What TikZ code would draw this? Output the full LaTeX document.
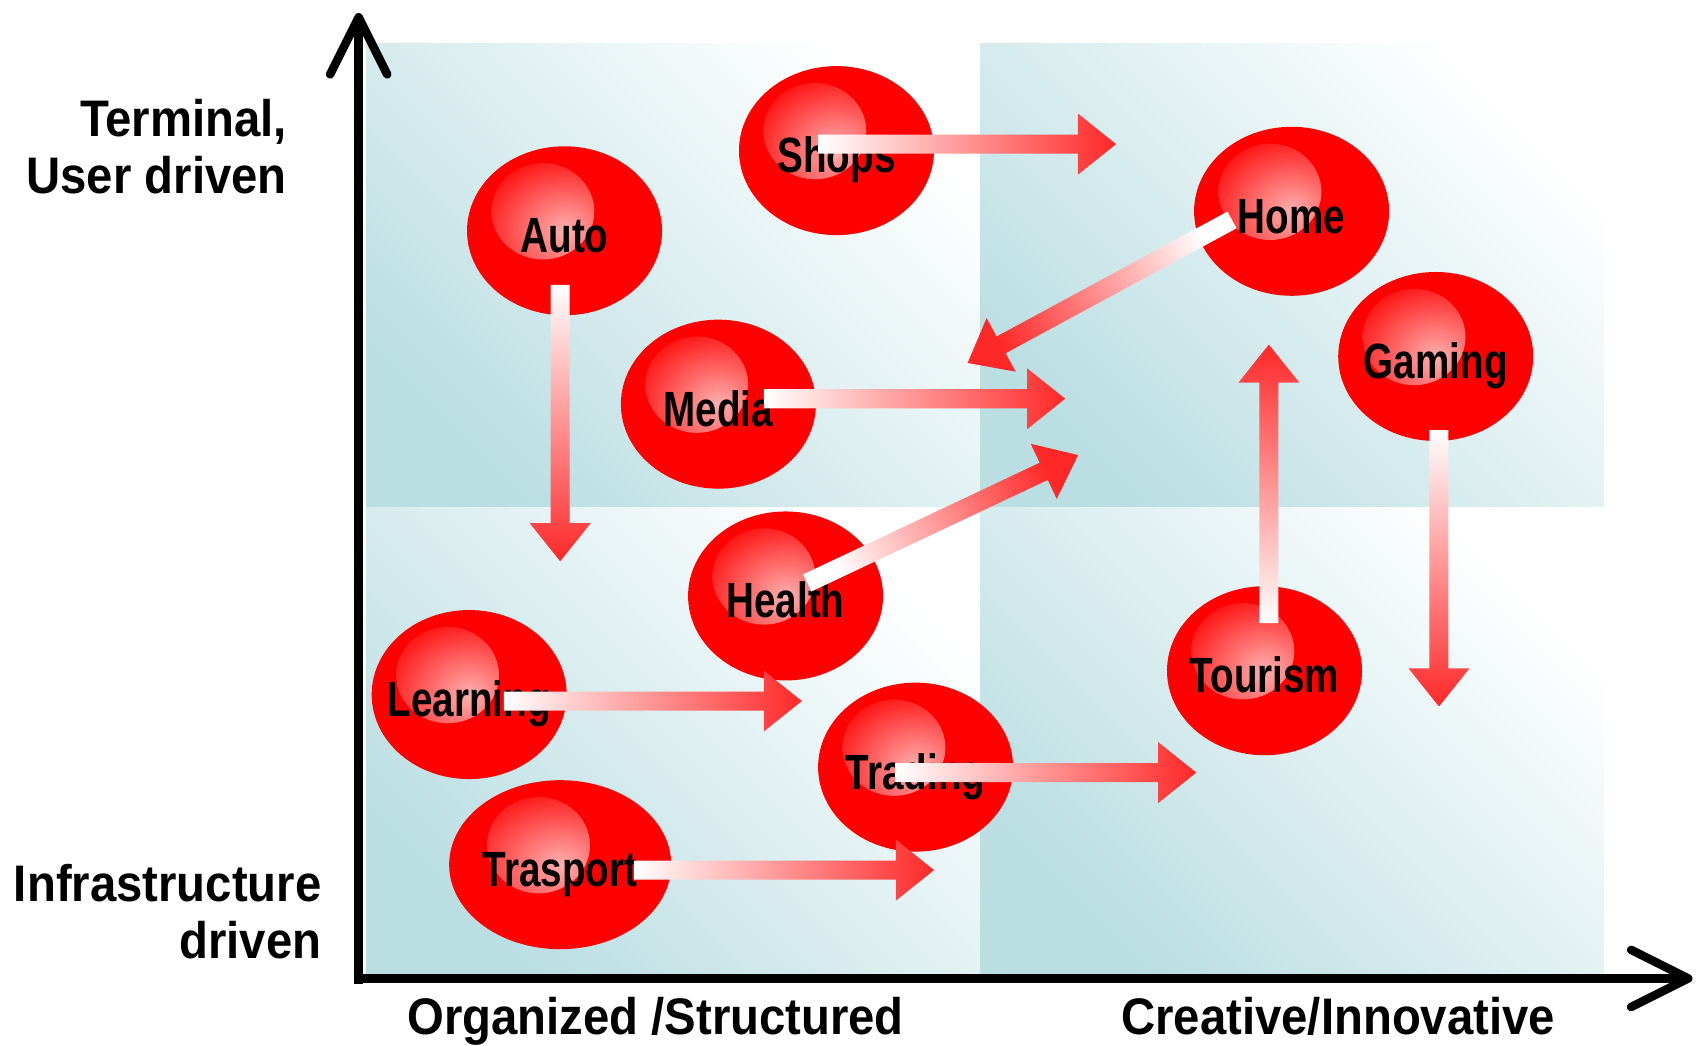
\documentclass[tikz,border=0pt]{standalone}
\usepackage{fontspec}
\setmainfont{Liberation Sans}
\newfontfamily\boulefont[FakeStretch=0.78]{Liberation Sans}
\newfontfamily\axefont[FakeStretch=0.92]{Liberation Sans}
\usepackage{tikz}
\usetikzlibrary{shapes.geometric, arrows.meta, calc}

\definecolor{sarcelle}{RGB}{186,222,226}
\definecolor{rougeboule}{RGB}{255,0,0}
\definecolor{reflet}{RGB}{255,176,176}
\definecolor{rougefleche}{RGB}{255,40,40}

\tikzstyle{boule} = [ellipse, 
minimum width=3.6cm, 
minimum height=3.12cm,
inner sep=0pt,
fill=rougeboule,
font=\boulefont\bfseries\fontsize{26}{30}\selectfont,
text height=23pt, text depth=0pt,
path picture={\shade[inner color=reflet, outer color=rougeboule] ([xshift=-0.4cm,yshift=0.36cm]path picture bounding box.center) ellipse (0.95cm and 0.89cm);}]
\tikzstyle{etiquette} = [font=\axefont\bfseries\fontsize{27}{30}\selectfont, inner sep=0pt]
\tikzstyle{axe} = [line width=4.5pt, -{Straight Barb[length=30pt,width=30pt,round]}]
\tikzstyle{panneau} = [bottom color=sarcelle, top color=white, shading angle=-45]

% texte centré sans largeur
\newcommand{\mot}[1]{\makebox[0pt]{#1}}

% flèche épaisse dégradée : départ #1, pointe #2
\newcommand{\fleche}[2]{%
  \coordinate (base) at ($(#2)!20pt!(#1)$);
  \path let \p1=($(#2)-(#1)$), \n1={atan2(\y1,\x1)-90} in \pgfextra{\xdef\angfleche{\n1}};
  \shade[bottom color=white, top color=rougefleche, shading angle=\angfleche]
    ($(#1)!5pt!90:(#2)$) -- ($(base)!5pt!90:(#2)$) -- ($(base)!16pt!90:(#2)$) -- (#2)
    -- ($(base)!16pt!-90:(#2)$) -- ($(base)!5pt!-90:(#2)$) -- ($(#1)!5pt!-90:(#2)$) -- cycle;
}

\begin{document}
\begin{tikzpicture}[x=0.02cm, y=-0.02cm]

\useasboundingbox (0,0) rectangle (1568,964.5);

% Les quatre quadrants
\shade[panneau] (338,40) rectangle (905,468);
\shade[panneau] (905,40) rectangle (1480,468);
\shade[panneau] (338,468) rectangle (905,898);
\shade[panneau] (905,468) rectangle (1480,898);

% Axes
\coordinate (origine) at (331,903);
\coordinate (hautY) at (331,12);
\coordinate (droiteX) at (1562,903);
\draw[axe] ([yshift=-3pt]origine) -- (hautY);
\draw[axe] ([xshift=-2pt]origine) -- (droiteX);

% Les boules
\node[boule] (auto) at (521,213) {\mot{Auto}};
\node[boule] (shops) at (772,139) {\mot{Shops}};
\node[boule] (home) at (1192,195) {\mot{Home}};
\node[boule] (gaming) at (1325,329) {\mot{Gaming}};
\node[boule] (media) at (663,373) {\mot{Media}};
\node[boule] (health) at (725,550) {\mot{Health}};
\node[boule] (learning) at (433,641) {\mot{Learning}};
\node[boule] (tourism) at (1167,619) {\mot{Tourism}};
\node[boule] (trading) at (845,708) {\mot{Trading}};
\node[boule, minimum width=4.1cm] (trasport) at (517,798) {\mot{Trasport}};

% Textes des axes
\node[etiquette, anchor=east, align=right] (terminal) at (265,135) {Terminal,\\User driven};
\node[etiquette, anchor=east, align=right] (infra) at (297,841) {Infrastructure\\driven};
\node[etiquette, anchor=base] (organise) at (605,955) {Organized /Structured};
\node[etiquette, anchor=base] (creatif) at (1235,955) {Creative/Innovative};

% Départs et pointes des flèches
\coordinate (shopsD) at ($(shops)+(-17,-6)$);   \coordinate (shopsF) at (1030,133);
\coordinate (homeD) at ($(home)+(-55,8)$);      \coordinate (homeF) at (893,335);
\coordinate (mediaD) at ($(media)+(42,-5)$);    \coordinate (mediaF) at (983,368);
\coordinate (healthD) at ($(health)+(20,-12)$); \coordinate (healthF) at (995,420);
\coordinate (autoD) at ($(auto)+(-4,50)$);      \coordinate (autoF) at (517,518);
\coordinate (learningD) at ($(learning)+(32,6)$); \coordinate (learningF) at (740,647);
\coordinate (tradingD) at ($(trading)+(-19,5)$);  \coordinate (tradingF) at (1104,713);
\coordinate (trasportD) at ($(trasport)+(68,5)$); \coordinate (trasportF) at (862,803);
\coordinate (tourismD) at ($(tourism)+(4,-44)$);  \coordinate (tourismF) at (1171,318);
\coordinate (gamingD) at ($(gaming)+(3,68)$);     \coordinate (gamingF) at (1328,652);

% Flèches
\fleche{shopsD}{shopsF}
\fleche{homeD}{homeF}
\fleche{mediaD}{mediaF}
\fleche{healthD}{healthF}
\fleche{autoD}{autoF}
\fleche{learningD}{learningF}
\fleche{tradingD}{tradingF}
\fleche{trasportD}{trasportF}
\fleche{tourismD}{tourismF}
\fleche{gamingD}{gamingF}

\end{tikzpicture}
\end{document}
